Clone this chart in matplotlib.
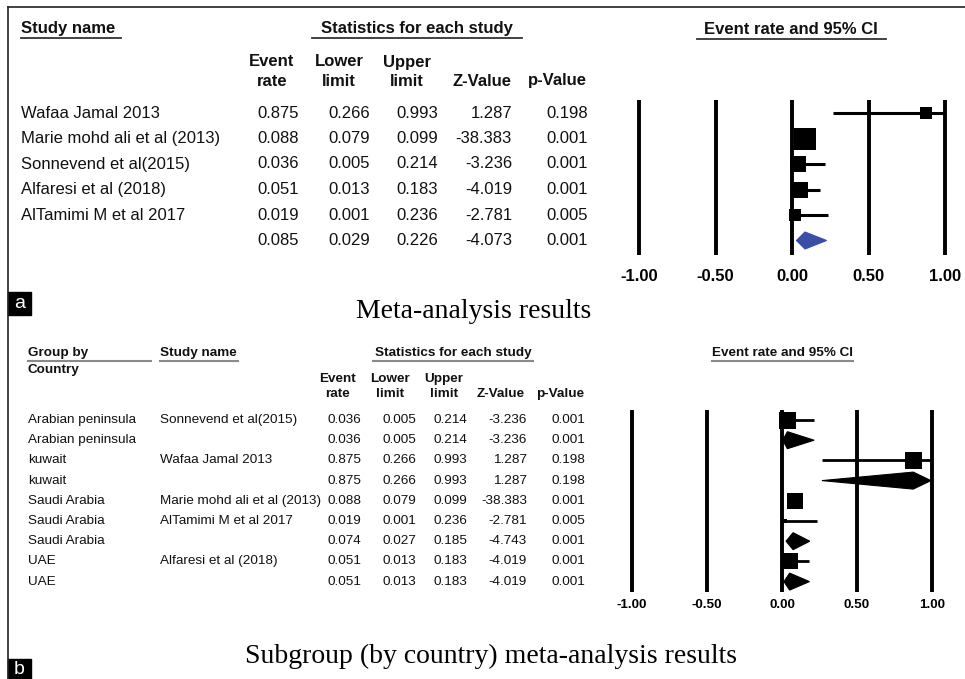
import matplotlib
matplotlib.use('Agg')
import matplotlib.pyplot as plt
from matplotlib.patches import Polygon, Rectangle

plt.rcParams['font.family'] = ['Liberation Sans', 'DejaVu Sans']

# ---- panel a : pooled meta-analysis ----
study_a = ['Wafaa Jamal 2013', 'Marie mohd ali et al (2013)', 'Sonnevend et al(2015)',
           'Alfaresi et al (2018)', 'AlTamimi M et al 2017', '']
rate_a = [0.875, 0.088, 0.036, 0.051, 0.019, 0.085]
lower_a = [0.266, 0.079, 0.005, 0.013, 0.001, 0.029]
upper_a = [0.993, 0.099, 0.214, 0.183, 0.236, 0.226]
z_a = [1.287, -38.383, -3.236, -4.019, -2.781, -4.073]
p_a = [0.198, 0.001, 0.001, 0.001, 0.005, 0.001]

# ---- panel b : subgroup by country ----
group_b = ['Arabian peninsula', 'Arabian peninsula', 'kuwait', 'kuwait', 'Saudi Arabia',
           'Saudi Arabia', 'Saudi Arabia', 'UAE', 'UAE']
study_b = ['Sonnevend et al(2015)', '', 'Wafaa Jamal 2013', '', 'Marie mohd ali et al (2013)',
           'AlTamimi M et al 2017', '', 'Alfaresi et al (2018)', '']
rate_b = [0.036, 0.036, 0.875, 0.875, 0.088, 0.019, 0.074, 0.051, 0.051]
lower_b = [0.005, 0.005, 0.266, 0.266, 0.079, 0.001, 0.027, 0.013, 0.013]
upper_b = [0.214, 0.214, 0.993, 0.993, 0.099, 0.236, 0.185, 0.183, 0.183]
z_b = [-3.236, -3.236, 1.287, 1.287, -38.383, -2.781, -4.743, -4.019, -4.019]
p_b = [0.001, 0.001, 0.198, 0.198, 0.001, 0.005, 0.001, 0.001, 0.001]

ticks = [-1.0, -0.5, 0.0, 0.5, 1.0]
tick_labels = ['-1.00', '-0.50', '0.00', '0.50', '1.00']

# square sizes in pixels (weights as drawn)
sq_a = [12.5, 21.5, 15.5, 16.5, 12]
sq_b = [17, 0, 17, 0, 16, 4, 0, 16, 0]

W, H = 965, 679
fig = plt.figure(figsize=(W / 100, H / 100), dpi=100)
bg = fig.add_axes([0, 0, 1, 1])
bg.set_xlim(0, W)
bg.set_ylim(H, 0)
bg.axis('off')

# frame lines
bg.plot([8, W], [7, 7], color='#222222', lw=1.2)
bg.plot([8, 8], [7, H], color='#222222', lw=1.2)


def forest(x0, unit, left, right, row0, step, top, bot, vl_top, vl_bot,
           rates, lows, ups, names, sizes, diamond_col, fs, lw_v, lw_ci, pad):
    ax = fig.add_axes([left / W, 1 - bot / H, (right - left) / W, (bot - top) / H])
    ax.set_xlim((left - x0) / unit, (right - x0) / unit)
    ax.set_ylim((bot - row0) / step, (top - row0) / step)
    ax.patch.set_alpha(0)
    for s in ax.spines.values():
        s.set_visible(False)
    ax.set_yticks([])
    ax.set_xticks(ticks)
    ax.set_xticklabels(tick_labels, fontsize=fs, fontweight='bold')
    ax.tick_params(axis='x', length=0, pad=pad)
    ax.vlines(ticks, (vl_top - row0) / step, (vl_bot - row0) / step, color='black', lw=lw_v)
    hh = 8.5 / step  # diamond half height in rows
    for i, (r, lo, up, nm) in enumerate(zip(rates, lows, ups, names)):
        if nm == '':
            # summary row -> diamond
            ax.add_patch(Polygon([(lo, i), (r, i - hh), (up, i), (r, i + hh)],
                                 closed=True, facecolor=diamond_col, edgecolor=diamond_col, lw=0.8))
        else:
            ax.plot([lo, up], [i, i], color='black', lw=lw_ci, solid_capstyle='butt')
            ax.plot([r], [i], marker='s', color='black', ms=sizes[i] * 0.72, mew=0)
    return ax


forest(792, 153, 615, 965, 113, 25.5, 92, 262, 100, 255,
       rate_a, lower_a, upper_a, study_a, sq_a, '#3a4ea6', 12, 2.8, 2.2, 5)
forest(782, 150, 610, 965, 420, 20.2, 400, 595, 410, 592,
       rate_b, lower_b, upper_b, study_b, sq_b, 'black', 9.7, 2.8, 2.0, 3)

tc = '#111111'

# ---- panel a table ----
fa = 12
bg.text(21, 28, 'Study name', fontsize=fa, fontweight='bold', va='center', color=tc)
bg.plot([21, 121], [38, 38], color='#333333', lw=1.3)
bg.text(416.5, 28, 'Statistics for each study', fontsize=fa, fontweight='bold', ha='center',
        va='center', color=tc)
bg.plot([312, 522], [38, 38], color='#333333', lw=1.3)
bg.text(791, 29, 'Event rate and 95% CI', fontsize=fa, fontweight='bold', ha='center',
        va='center', color=tc)
bg.plot([697, 886], [38.5, 38.5], color='#333333', lw=1.3)

hdr_a = [('Event', 'rate', 272), ('Lower', 'limit', 339), ('Upper', 'limit', 407),
         ('', 'Z-Value', 482), ('', 'p-Value', 557)]
for l1, l2, x in hdr_a:
    bg.text(x, 62, l1, fontsize=fa, fontweight='bold', ha='center', va='center', color=tc)
    bg.text(x, 81, l2, fontsize=fa, fontweight='bold', ha='center', va='center', color=tc)

cols_a = [299, 370, 438, 512, 588]
for i in range(len(study_a)):
    y = 113 + 25.5 * i
    bg.text(21, y, study_a[i], fontsize=fa, va='center', color=tc)
    vals = [rate_a[i], lower_a[i], upper_a[i], z_a[i], p_a[i]]
    for x, v in zip(cols_a, vals):
        bg.text(x, y, f'{v:.3f}', fontsize=fa, ha='right', va='center', color=tc)

bg.text(474, 311, 'Meta-analysis results', fontsize=20, family='Liberation Serif',
        ha='center', va='center', color='black')
bg.add_patch(Rectangle((8, 292), 23, 23, color='black'))
bg.text(19.5, 303, 'a', fontsize=14, color='white', ha='center', va='center')

# ---- panel b table ----
fb = 9.7
bg.text(28, 353, 'Group by', fontsize=fb, fontweight='bold', va='center', color=tc)
bg.text(28, 370, 'Country', fontsize=fb, fontweight='bold', va='center', color=tc)
bg.plot([28, 151], [361, 361], color='#8a8a8a', lw=1.5)
bg.text(160, 353, 'Study name', fontsize=fb, fontweight='bold', va='center', color=tc)
bg.plot([160, 238], [361, 361], color='#8a8a8a', lw=1.5)
bg.text(453, 353, 'Statistics for each study', fontsize=fb, fontweight='bold', ha='center',
        va='center', color=tc)
bg.plot([373, 533], [361, 361], color='#8a8a8a', lw=1.5)
bg.text(782, 353, 'Event rate and 95% CI', fontsize=fb, fontweight='bold', ha='center',
        va='center', color=tc)
bg.plot([712, 853], [361, 361], color='#8a8a8a', lw=1.5)

hdr_b = [('Event', 'rate', 338), ('Lower', 'limit', 390), ('Upper', 'limit', 444),
         ('', 'Z-Value', 501), ('', 'p-Value', 560.5)]
for l1, l2, x in hdr_b:
    bg.text(x, 379, l1, fontsize=fb, fontweight='bold', ha='center', va='center', color=tc)
    bg.text(x, 394, l2, fontsize=fb, fontweight='bold', ha='center', va='center', color=tc)

cols_b = [361, 416, 467, 527, 585]
for i in range(len(group_b)):
    y = 420 + 20.2 * i
    bg.text(28, y, group_b[i], fontsize=fb, va='center', color=tc)
    bg.text(160, y, study_b[i], fontsize=fb, va='center', color=tc)
    vals = [rate_b[i], lower_b[i], upper_b[i], z_b[i], p_b[i]]
    for x, v in zip(cols_b, vals):
        bg.text(x, y, f'{v:.3f}', fontsize=fb, ha='right', va='center', color=tc)

bg.text(491, 656, 'Subgroup (by country) meta-analysis results', fontsize=20,
        family='Liberation Serif', ha='center', va='center', color='black')
bg.add_patch(Rectangle((8, 659), 23, 20, color='black'))
bg.text(19.5, 670, 'b', fontsize=14, color='white', ha='center', va='center')

fig.savefig('out.png', dpi=100)
